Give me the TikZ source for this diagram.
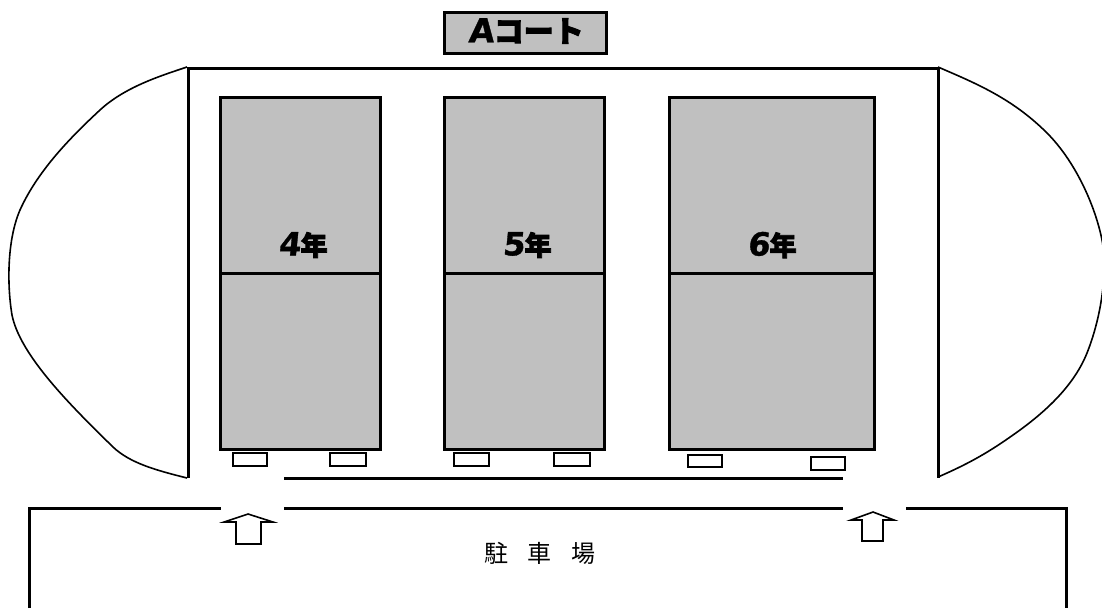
\documentclass[tikz,border=0pt]{standalone}
\usepackage{fontspec}
\setmainfont{DejaVu Sans}
\newfontfamily\cjk[BoldFeatures={FakeBold=3}]{Noto Sans CJK JP}
\newfontfamily\latinbold[BoldFeatures={FakeSlant=0.1,FakeBold=1}]{DejaVu Sans}
\usetikzlibrary{positioning}
\definecolor{courtgray}{RGB}{192,192,192}
\newcommand{\heavy}[2]{{\fontsize{#1}{#1}\selectfont\latinbold\bfseries #2}}

\begin{document}
\begin{tikzpicture}[x=1pt, y=-1pt,
            court box/.style={draw, fill=courtgray, line width=3pt, anchor=north west, inner sep=0pt, outer sep=0pt},
            bench box/.style={draw, line width=1.5pt, fill=white, anchor=north west, inner sep=0pt, outer sep=0pt},
            court label/.style={font=\fontsize{27}{27}\selectfont\bfseries\cjk, inner sep=0pt},
            court line/.style={line width=3pt},
            wall/.style={line width=3pt},
            side area/.style={line width=1.6pt},
            entry arrow/.style={draw, line width=1.6pt, fill=white, line join=miter}]

            \useasboundingbox (0,0) rectangle (1102,608);

            % Title
            \node[court box, minimum width=162pt, minimum height=41pt] (title) at (444,12) {};
            \node[font=\fontsize{30}{30}\selectfont\bfseries\cjk, inner sep=0pt] (titletext) at (526,31)
                {\heavy{33}{A}コート};

            % Courts
            \node[court box, minimum width=160pt, minimum height=352pt] (court4) at (220,97) {};
            \node[court box, minimum width=160pt, minimum height=352pt] (court5) at (444,97) {};
            \node[court box, minimum width=205pt, minimum height=352pt] (court6) at (669,97) {};
            \draw[court line] (court4.west) -- ([xshift=2pt]court4.east);
            \draw[court line] (court5.west) -- (court5.east);
            \draw[court line] (court6.west) -- (court6.east);

            \node[court label] (label4) at (303,245) {\heavy{32}{4}年};
            \node[court label] (label5) at (527,245) {\heavy{32}{5}年};
            \node[court label] (label6) at (772,245) {\heavy{32}{6}年};

            % Benches
            \node[bench box, minimum width=34pt, minimum height=13pt] (bench1) at (233,453) {};
            \node[bench box, minimum width=36pt, minimum height=13pt] (bench2) at (330,453) {};
            \node[bench box, minimum width=35pt, minimum height=13pt] (bench3) at (454,453) {};
            \node[bench box, minimum width=36pt, minimum height=13pt] (bench4) at (554,453) {};
            \node[bench box, minimum width=34pt, minimum height=12pt] (bench5) at (688,455) {};
            \node[bench box, minimum width=34pt, minimum height=13pt] (bench6) at (811,457) {};

            % Fence
            \draw[wall] (188,478) -- (188,68) -- (938,68) -- (938,478);
            \draw[wall] (284,478) -- (843,478);

            % Side areas
            \draw[side area] (187,67) .. controls (160,76) and (125,87) .. (100,110)
                .. controls (72,136) and (38,170) .. (20,210)
                .. controls (7,240) and (7,285) .. (12,315)
                .. controls (20,355) and (70,405) .. (113,447)
                .. controls (130,463) and (155,470) .. (187,478);
            \draw[side area] (938,67) .. controls (975,83) and (1012,98) .. (1047,133)
                .. controls (1075,161) and (1095,205) .. (1102,240)
                .. controls (1108,272) and (1101,318) .. (1087,353)
                .. controls (1075,383) and (1050,408) .. (1020,430)
                .. controls (995,448) and (975,461) .. (938,477);

            % Parking
            \draw[wall] (29,608) -- (29,508) -- (221,508);
            \draw[wall] (284,508) -- (843,508);
            \draw[wall] (906,508) -- (1066,508) -- (1066,608);
            \node[font=\fontsize{24}{24}\selectfont\cjk, inner sep=0pt] (parking) at (540,553) {\spaceskip=20pt 駐 車 場};

            % Entrance arrows
            \draw[entry arrow] (248,514) -- (273,522) -- (261,522) -- (261,544) -- (236,544) -- (236,522) -- (224,522) -- cycle;
            \draw[entry arrow] (873,512) -- (894,520) -- (883,520) -- (883,541) -- (862,541) -- (862,520) -- (851,520) -- cycle;
\end{tikzpicture}
\end{document}
